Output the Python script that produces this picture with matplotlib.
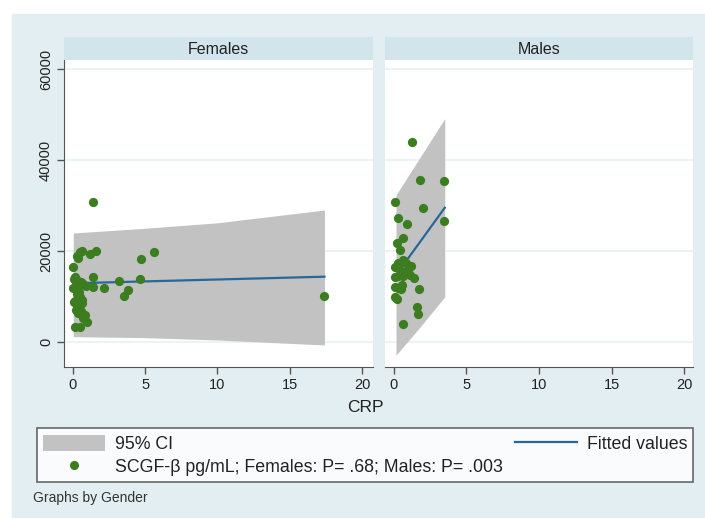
import matplotlib
matplotlib.use("Agg")
import matplotlib.pyplot as plt
from matplotlib.patches import Patch
from matplotlib.lines import Line2D

plt.rcParams['font.family'] = ['Liberation Sans', 'DejaVu Sans']

# data
fem_crp = [1.36, 1.59, 1.18, 0.48, 0.6, 0.37, 0.3, 0.02, 4.68, 5.6,
           1.4, 0.14, 0.35, 0.55, 0.7, 0.25, 0.9, 1.4, 0.02, 0.45,
           4.64, 3.2, 2.17, 3.83, 3.55, 17.4, 0.3, 0.5, 0.15, 0.6,
           0.3, 0.45, 0.2, 0.55, 0.35, 0.8, 0.95, 0.7, 0.14, 0.48,
           0.1, 0.4, 0.65, 0.05, 0.25]
fem_scgf = [30800, 20000, 19300, 19700, 19900, 18500, 19000, 16500, 18200, 19750,
            14200, 14300, 13500, 13200, 12800, 12200, 12300, 12100, 11800, 12600,
            13850, 13400, 11900, 11400, 10200, 10000, 10500, 9800, 9000, 8600,
            8000, 7600, 7000, 6800, 6300, 5900, 4500, 5300, 3400, 3400,
            8800, 11000, 9200, 13900, 12900]

male_crp = [1.26, 1.79, 3.47, 0.07, 1.98, 0.27, 0.87, 3.43, 0.65, 0.18,
            0.41, 0.65, 0.3, 0.8, 0.1, 0.45, 0.95, 1.1, 0.3, 0.1,
            0.65, 1.4, 0.1, 0.3, 0.45, 1.7, 0.1, 0.2, 1.56, 1.67,
            0.64, 0.55, 1.2]
male_scgf = [43960, 35500, 35380, 30770, 29380, 27250, 25860, 26660, 22800, 21700,
             20200, 18000, 17400, 17300, 16500, 15500, 16000, 14800, 14400, 14300,
             14500, 14000, 12000, 11800, 11600, 11600, 9900, 9400, 7760, 6080,
             3960, 12500, 16800]

# fitted line and 95% CI band
fem_fit_x = [0.02, 17.4]
fem_fit_y = [12900, 14350]
fem_ci_x = [0.02, 5, 10, 17.4]
fem_ci_lo = [1170, 950, 440, -660]
fem_ci_hi = [23950, 25000, 26200, 29000]

male_fit_x = [0.14, 3.5]
male_fit_y = [14700, 29500]
male_ci_x = [0.14, 1.8, 3.5]
male_ci_lo = [-2900, 3300, 9900]
male_ci_hi = [32300, 40600, 49100]

panels = ["Females", "Males"]
xticks = [0, 5, 10, 15, 20]
yticks = [0, 20000, 40000, 60000]

bg = "#e2eef1"
strip = "#d3e5ec"
dot = "#3b7d1f"
fitc = "#27689a"
cic = "#c2c2c2"

W, H = 705, 518
fig = plt.figure(figsize=(W / 100, H / 100), dpi=100)
fig.patch.set_facecolor("white")

# outer stata-like background
fig.patches.append(plt.Rectangle((12 / W, 0), 1 - 12 / W, 1 - 14 / H,
                                 transform=fig.transFigure, color=bg, zorder=-5))

def px(x0, y0, x1, y1):
    return [x0 / W, 1 - y1 / H, (x1 - x0) / W, (y1 - y0) / H]

data = [
    (fem_crp, fem_scgf, fem_fit_x, fem_fit_y, fem_ci_x, fem_ci_lo, fem_ci_hi),
    (male_crp, male_scgf, male_fit_x, male_fit_y, male_ci_x, male_ci_lo, male_ci_hi),
]
boxes = [(64, 373, -0.62, 20.76), (385, 693, -0.62, 20.62)]

for i, name in enumerate(panels):
    x0, x1, xl, xr = boxes[i]
    crp, scgf, fx, fy, cx, clo, chi = data[i]
    ax = fig.add_axes(px(x0, 60, x1, 367))
    ax.set_facecolor("white")
    ax.fill_between(cx, clo, chi, color=cic, lw=0, zorder=1)
    ax.plot(fx, fy, color=fitc, lw=1.6, zorder=2)
    ax.scatter(crp, scgf, s=44, color=dot, lw=0, zorder=3)
    ax.set_xlim(xl, xr)
    ax.set_ylim(-5500, 61980)
    ax.set_xticks(xticks)
    ax.set_yticks(yticks)
    ax.grid(axis="y", color="#eaf3f5", lw=1.5, zorder=0)
    ax.set_axisbelow(True)
    for s in ["top", "right"]:
        ax.spines[s].set_visible(False)
    ax.spines["bottom"].set_color("#555555")
    ax.spines["left"].set_color("#555555")
    ax.tick_params(colors="#555555", labelcolor="#222222", length=5, width=1,
                   labelsize=10.5, pad=3)
    if i == 0:
        ax.set_yticklabels([str(v) for v in yticks], rotation=90, va="center")
    else:
        ax.spines["left"].set_visible(False)
        ax.tick_params(axis="y", left=False, labelleft=False)

    hd = fig.add_axes(px(x0, 37, x1, 60))
    hd.set_facecolor(strip)
    hd.set_xticks([])
    hd.set_yticks([])
    for s in hd.spines.values():
        s.set_visible(False)
    hd.text(0.5, 0.45, name, ha="center", va="center", fontsize=11.5,
            color="#222222", transform=hd.transAxes)

fig.text(365 / W, 1 - 407 / H, "CRP", ha="center", va="center", fontsize=12.5,
         color="#222222")

handles = [Patch(facecolor=cic, edgecolor="none"),
           Line2D([], [], ls="none", marker="o", ms=5.5, color=dot),
           Line2D([], [], color=fitc, lw=1.6)]
labels = ["95% CI", "SCGF-β pg/mL; Females: P= .68; Males: P= .003", "Fitted values"]
leg = fig.legend(handles, labels, ncol=2, mode="expand",
                 bbox_to_anchor=(36.7 / W, 1 - 482 / H, (693.3 - 36.7) / W, 58 / H),
                 loc="lower left", fontsize=12.8, frameon=True, fancybox=False,
                 handlelength=3.5, handleheight=1.05, handletextpad=0.55,
                 borderpad=0.35, labelspacing=0.25, borderaxespad=0)
leg.get_frame().set_edgecolor("#444444")
leg.get_frame().set_linewidth(1.2)
for t in leg.get_texts():
    t.set_color("#222222")

fig.text(33 / W, 1 - 498 / H, "Graphs by Gender", ha="left", va="center",
         fontsize=10, color="#333333")

fig.savefig("out.png", dpi=100, facecolor=fig.get_facecolor())
